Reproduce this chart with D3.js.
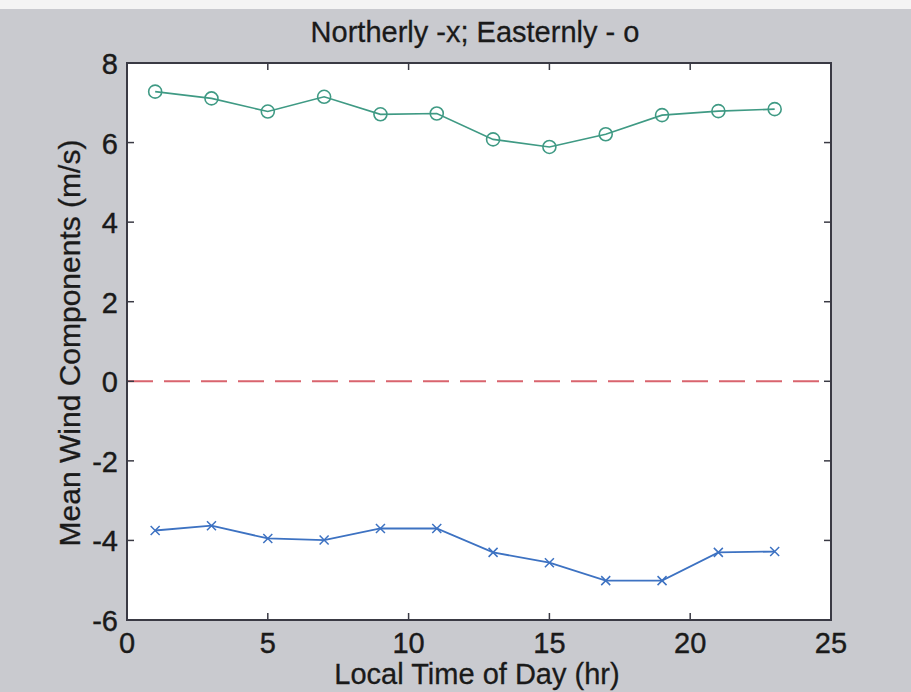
<!DOCTYPE html>
<html>
<head>
<meta charset="utf-8">
<script src="https://cdn.jsdelivr.net/npm/d3@7"></script>
<style>
  body { margin: 0; background: #c9cacf; }
  svg { display: block; }
</style>
</head>
<body>
<div id="chart"></div>
<script>
'use strict'

// hours of the day (local time)
var hours = [1, 3, 5, 7, 9, 11, 13, 15, 17, 19, 21, 23];
// easterly component (o)
var easterly = [7.28, 7.11, 6.78, 7.15, 6.71, 6.73, 6.08, 5.89, 6.21, 6.69, 6.79, 6.84];
// northerly component (x)
var northerly = [-3.75, -3.63, -3.95, -3.99, -3.70, -3.70, -4.30, -4.56, -5.01, -5.01, -4.30, -4.28];

var xTicks = [0, 5, 10, 15, 20, 25];
var yTicks = [-6, -4, -2, 0, 2, 4, 6, 8];

var WIDTH = 911, HEIGHT = 692;
var LEFT = 127, RIGHT = 831, TOP = 63, BOTTOM = 620;
var TICK = 7;

var svg = d3.select('#chart').append('svg').attr('width', WIDTH).attr('height', HEIGHT);

// grey page with a thin white strip on top
svg.append('rect').attr('x', 0).attr('y', 0).attr('width', WIDTH).attr('height', HEIGHT).attr('fill', '#c9cacf');
svg.append('rect').attr('x', 0).attr('y', 0).attr('width', WIDTH).attr('height', 9).attr('fill', '#f4f4f4');

var x = d3.scaleLinear().domain([0, 25]).range([LEFT, RIGHT]);
var y = d3.scaleLinear().domain([-6, 8]).range([BOTTOM, TOP]);

// plot area
svg.append('rect')
  .attr('x', LEFT).attr('y', TOP)
  .attr('width', RIGHT - LEFT).attr('height', BOTTOM - TOP)
  .attr('fill', 'white');

// zero line
svg.append('line')
  .attr('x1', x(0)).attr('x2', x(25))
  .attr('y1', y(0)).attr('y2', y(0))
  .attr('stroke', '#d9646e')
  .attr('stroke-width', 2)
  .attr('stroke-dasharray', '26,11');

// lines
var line = d3.line().x(function (d) { return x(d[0]); }).y(function (d) { return y(d[1]); });

var eData = d3.zip(hours, easterly);
var nData = d3.zip(hours, northerly);

svg.append('path').datum(eData).attr('d', line)
  .attr('fill', 'none').attr('stroke', '#3f9a84').attr('stroke-width', 1.6);
svg.selectAll('circle.east').data(eData).enter().append('circle')
  .attr('class', 'east')
  .attr('cx', function (d) { return x(d[0]); })
  .attr('cy', function (d) { return y(d[1]); })
  .attr('r', 6.5)
  .attr('fill', 'none').attr('stroke', '#3f9a84').attr('stroke-width', 1.6);

svg.append('path').datum(nData).attr('d', line)
  .attr('fill', 'none').attr('stroke', '#3d72c2').attr('stroke-width', 1.8);
svg.selectAll('path.north').data(nData).enter().append('path')
  .attr('class', 'north')
  .attr('d', function (d) {
    var cx = x(d[0]), cy = y(d[1]), s = 4.5;
    return 'M' + (cx - s) + ',' + (cy - s) + 'L' + (cx + s) + ',' + (cy + s) +
      'M' + (cx - s) + ',' + (cy + s) + 'L' + (cx + s) + ',' + (cy - s);
  })
  .attr('stroke', '#3d72c2').attr('stroke-width', 1.5);

// frame
svg.append('rect')
  .attr('x', LEFT).attr('y', TOP)
  .attr('width', RIGHT - LEFT).attr('height', BOTTOM - TOP)
  .attr('fill', 'none').attr('stroke', '#3a3a44').attr('stroke-width', 2);

// inner ticks on all four sides
var axisColor = '#3a3a44';
xTicks.forEach(function (t) {
  svg.append('line').attr('x1', x(t)).attr('x2', x(t)).attr('y1', BOTTOM).attr('y2', BOTTOM - TICK)
    .attr('stroke', axisColor).attr('stroke-width', 1.5);
  svg.append('line').attr('x1', x(t)).attr('x2', x(t)).attr('y1', TOP).attr('y2', TOP + TICK)
    .attr('stroke', axisColor).attr('stroke-width', 1.5);
});
yTicks.forEach(function (t) {
  svg.append('line').attr('x1', LEFT).attr('x2', LEFT + TICK).attr('y1', y(t)).attr('y2', y(t))
    .attr('stroke', axisColor).attr('stroke-width', 1.5);
  svg.append('line').attr('x1', RIGHT).attr('x2', RIGHT - TICK).attr('y1', y(t)).attr('y2', y(t))
    .attr('stroke', axisColor).attr('stroke-width', 1.5);
});

var FONT = 'Liberation Sans, Arial, sans-serif';
var INK = '#1a1a1a';

// tick labels
svg.selectAll('text.xt').data(xTicks).enter().append('text')
  .attr('class', 'xt')
  .attr('x', function (d) { return x(d); })
  .attr('y', 653)
  .attr('text-anchor', 'middle')
  .attr('font-family', FONT).attr('font-size', '29px').attr('fill', INK)
  .attr('stroke', INK).attr('stroke-width', 0.4)
  .text(function (d) { return d; });

svg.selectAll('text.yt').data(yTicks).enter().append('text')
  .attr('class', 'yt')
  .attr('x', 118)
  .attr('y', function (d) { return y(d) + 11; })
  .attr('text-anchor', 'end')
  .attr('font-family', FONT).attr('font-size', '29px').attr('fill', INK)
  .attr('stroke', INK).attr('stroke-width', 0.4)
  .text(function (d) { return d; });

// title and axis labels
svg.append('text')
  .attr('x', 475).attr('y', 42)
  .attr('text-anchor', 'middle')
  .attr('font-family', FONT).attr('font-size', '29px').attr('fill', INK)
  .attr('stroke', INK).attr('stroke-width', 0.3)
  .text('Northerly -x; Easternly - o');

svg.append('text')
  .attr('x', 477).attr('y', 684)
  .attr('text-anchor', 'middle')
  .attr('font-family', FONT).attr('font-size', '29px').attr('fill', INK)
  .attr('stroke', INK).attr('stroke-width', 0.3)
  .text('Local Time of Day (hr)');

svg.append('text')
  .attr('transform', 'translate(80,343) rotate(-90)')
  .attr('text-anchor', 'middle')
  .attr('font-family', FONT).attr('font-size', '30px').attr('fill', INK)
  .attr('stroke', INK).attr('stroke-width', 0.3)
  .text('Mean Wind Components (m/s)');
</script>
</body>
</html>
